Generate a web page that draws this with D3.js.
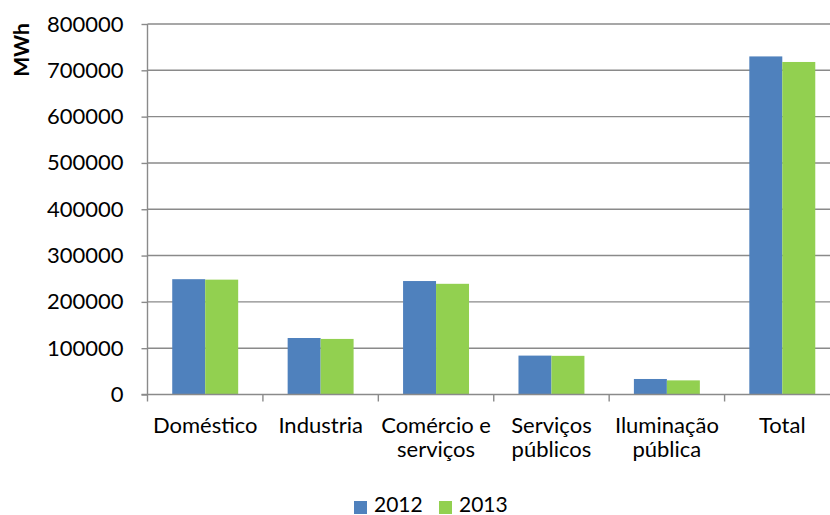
<!DOCTYPE html>
<html>
<head>
<meta charset="utf-8">
<script src="https://cdn.jsdelivr.net/npm/d3@7"></script>
<style>
  html, body { margin: 0; padding: 0; background: #fff; }
  svg { display: block; font-family: Lato, "Open Sans", sans-serif; }
</style>
</head>
<body>
<svg id="chart" width="830" height="515"></svg>
<script>
// Consumo de energia eléctrica por sector (MWh)
const categories = [["Doméstico"], ["Industria"], ["Comércio e", "serviços"], ["Serviços", "públicos"], ["Iluminação", "pública"], ["Total"]];
const years = ["2012", "2013"];
const values2012 = [249000, 122000, 245000, 84000, 33500, 730000];
const values2013 = [248000, 120000, 239000, 83500, 30500, 718000];
const yTicks = [0, 100000, 200000, 300000, 400000, 500000, 600000, 700000, 800000];
const colors = ["#4F81BD", "#92D050"];

const svg = d3.select("#chart");
const margin = { left: 147.5, top: 24, right: 840, bottom: 394.5 };
const FS = 22;

// Excel-like layout: gap width 150% between groups
const band = (margin.right - margin.left) / categories.length;
const barW = band / 3.5;
const xs = d3.scaleBand().domain(years).range([0, 2 * barW]);

const y = d3.scaleLinear().domain([0, 800000]).range([margin.bottom, margin.top]);

// gridlines
svg.append("g")
  .selectAll("line")
  .data(yTicks.filter(d => d > 0))
  .join("line")
  .attr("x1", margin.left).attr("x2", 830)
  .attr("y1", d => y(d)).attr("y2", d => y(d))
  .attr("stroke", "#8a8a8a").attr("stroke-width", 1.4);

// bars
const series = [values2012, values2013];
const groups = svg.append("g");
categories.forEach((c, i) => {
  const gx = margin.left + i * band + (band - 2 * barW) / 2;
  years.forEach((yr, k) => {
    const v = series[k][i];
    groups.append("rect")
      .attr("x", gx + xs(yr))
      .attr("y", y(v))
      .attr("width", xs.bandwidth())
      .attr("height", y(0) - y(v))
      .attr("fill", colors[k]);
  });
});

// y axis
const yAxis = d3.axisLeft(y).tickValues(yTicks).tickSize(6).tickPadding(18).tickFormat(d3.format("d"));
const gy = svg.append("g").attr("transform", `translate(${margin.left},0)`).call(yAxis);
gy.select(".domain").attr("stroke", "#8a8a8a").attr("stroke-width", 1.4).attr("d", `M0,${margin.bottom}V${margin.top}`);
gy.selectAll(".tick line").attr("stroke", "#8a8a8a").attr("stroke-width", 1.4);
gy.selectAll(".tick text").attr("font-size", FS).attr("fill", "#000").attr("font-family", "Lato, sans-serif");

// x axis baseline and tick marks at category boundaries
svg.append("line")
  .attr("x1", margin.left - 6).attr("x2", 830)
  .attr("y1", y(0)).attr("y2", y(0))
  .attr("stroke", "#8a8a8a").attr("stroke-width", 1.4);
svg.append("g").selectAll("line")
  .data(d3.range(categories.length + 1))
  .join("line")
  .attr("x1", i => margin.left + i * band).attr("x2", i => margin.left + i * band)
  .attr("y1", y(0)).attr("y2", y(0) + 7)
  .attr("stroke", "#8a8a8a").attr("stroke-width", 1.4);

// category labels
const xl = svg.append("g");
categories.forEach((lines, i) => {
  const t = xl.append("text")
    .attr("x", margin.left + (i + 0.5) * band)
    .attr("y", 433)
    .attr("text-anchor", "middle")
    .attr("font-size", FS)
    .attr("fill", "#000");
  lines.forEach((ln, j) => {
    t.append("tspan").attr("x", margin.left + (i + 0.5) * band).attr("dy", j === 0 ? 0 : 24).text(ln);
  });
});

// y axis title
svg.append("text")
  .attr("transform", "translate(29,50) rotate(-90)")
  .attr("text-anchor", "middle")
  .attr("font-size", 21)
  .attr("font-weight", "bold")
  .attr("fill", "#000")
  .text("MWh");

// legend
const legend = svg.append("g");
const legendX = [354, 439];
years.forEach((yr, k) => {
  legend.append("rect")
    .attr("x", legendX[k]).attr("y", 501)
    .attr("width", 13).attr("height", 13)
    .attr("fill", colors[k]);
  legend.append("text")
    .attr("x", legendX[k] + 20).attr("y", 512)
    .attr("font-size", 21).attr("fill", "#000")
    .text(yr);
});
</script>
</body>
</html>
